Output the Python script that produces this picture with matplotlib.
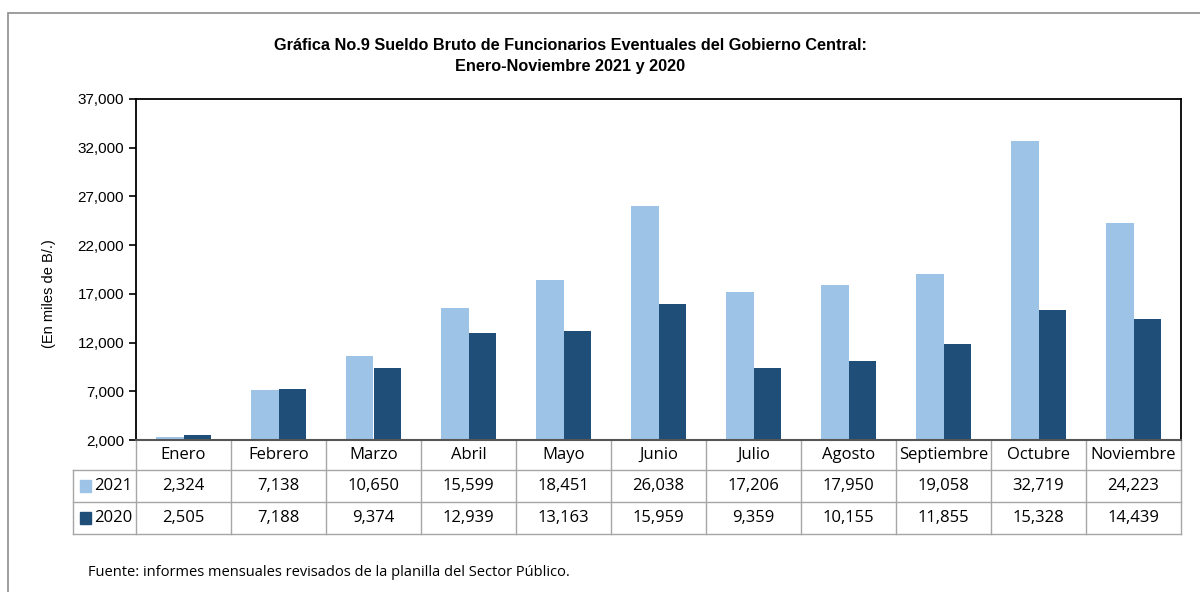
import numpy as np
import matplotlib.pyplot as plt
from matplotlib.patches import Rectangle
from matplotlib.transforms import blended_transform_factory

months = ["Enero", "Febrero", "Marzo", "Abril", "Mayo", "Junio", "Julio",
          "Agosto", "Septiembre", "Octubre", "Noviembre"]
v2021 = [2324, 7138, 10650, 15599, 18451, 26038, 17206, 17950, 19058, 32719, 24223]
v2020 = [2505, 7188, 9374, 12939, 13163, 15959, 9359, 10155, 11855, 15328, 14439]
series = [("2021", v2021, "#9DC3E6"), ("2020", v2020, "#1F4E79")]

W, H = 1200, 592
fig = plt.figure(figsize=(12, 5.92), dpi=100)

def fy(py):
    return 1 - py / H

# outer border
fig.patches.append(Rectangle((8 / W, -0.01), 1.2, fy(13) + 0.01, transform=fig.transFigure,
                             fill=False, edgecolor="#8c8c8c", linewidth=1.2))

left, right, top, bottom = 136, 1181, 99, 440
ax = fig.add_axes([left / W, fy(bottom), (right - left) / W, (bottom - top) / H])

x = np.arange(len(months))
bw = 0.285
base = 2000
for i, (name, vals, col) in enumerate(series):
    off = (i - 0.5) * bw
    ax.bar(x + off, np.array(vals) - base, bottom=base, width=bw, color=col, zorder=2)

ax.set_xlim(-0.5, len(months) - 0.5)
ax.set_ylim(2000, 37000)
ax.set_yticks(range(2000, 37001, 5000))
ax.set_yticklabels([f"{v:,}" for v in range(2000, 37001, 5000)],
                   fontsize=11, family="Liberation Sans")
ax.set_xticks([])
ax.tick_params(axis="y", length=5, width=1.2)
for s in ["left", "top", "right"]:
    ax.spines[s].set_linewidth(1.3)
    ax.spines[s].set_color("black")
ax.spines["bottom"].set_color("#555555")
ax.spines["bottom"].set_linewidth(1.5)

fig.text(49 / W, fy(294), "(En miles de B/.)", rotation=90, fontsize=10.5,
         family="Liberation Sans", ha="center", va="center")

fig.text(570 / W, fy(45), "Gráfica No.9 Sueldo Bruto de Funcionarios Eventuales del Gobierno Central:",
         ha="center", va="center", fontsize=11.7, fontweight="bold", family="Liberation Sans")
fig.text(570 / W, fy(66), "Enero-Noviembre 2021 y 2020",
         ha="center", va="center", fontsize=11.7, fontweight="bold", family="Liberation Sans")

# data table
tr = blended_transform_factory(ax.transData, fig.transFigure)
grid = "#a6a6a6"
rows = [440, 470, 502, 534]
tfont = dict(fontsize=12, family="Open Sans", ha="center", va="center")

# vertical lines at column edges
for k in range(len(months) + 1):
    ax.plot([k - 0.5, k - 0.5], [fy(rows[0]), fy(rows[-1])], transform=tr,
            color=grid, lw=1, clip_on=False)
# horizontal lines
for r in rows[1:]:
    fig.add_artist(plt.Line2D([73 / W, right / W], [fy(r), fy(r)], color=grid, lw=1))
fig.add_artist(plt.Line2D([73 / W, 73 / W], [fy(rows[1]), fy(rows[-1])], color=grid, lw=1))

for k, m in enumerate(months):
    ax.text(k, fy((rows[0] + rows[1]) / 2), m, transform=tr, **tfont)
for j, (name, vals, col) in enumerate(series):
    yc = fy((rows[j + 1] + rows[j + 2]) / 2)
    for k, v in enumerate(vals):
        ax.text(k, yc, f"{v:,}", transform=tr, **tfont)
    fig.patches.append(Rectangle((80 / W, yc - 6 / H), 11 / W, 12 / H, transform=fig.transFigure,
                                 color=col))
    fig.text(94 / W, yc, name, fontsize=12, family="Open Sans", ha="left", va="center")

fig.text(88 / W, fy(573), "Fuente: informes mensuales revisados de la planilla del Sector Público.",
         fontsize=10.5, family="Open Sans", ha="left", va="center")

fig.savefig("out.png", dpi=100)
